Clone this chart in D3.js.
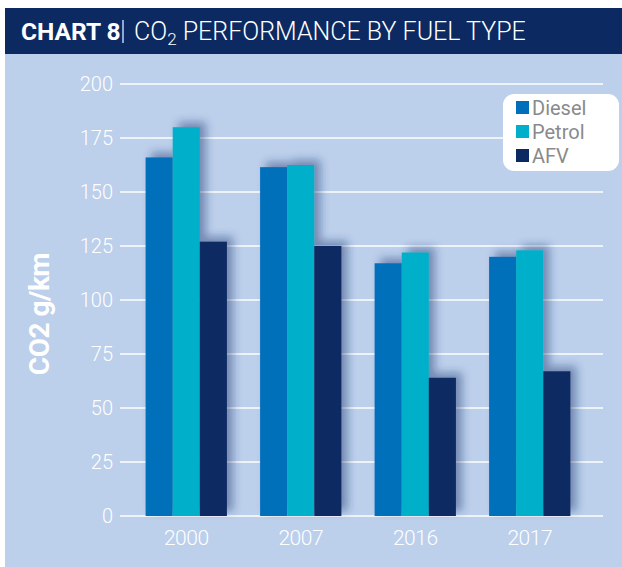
<!DOCTYPE html>
<html>
<head>
<meta charset="utf-8">
<script src="https://cdn.jsdelivr.net/npm/d3@7"></script>
<style>
  body { margin: 0; background: #ffffff; }
  svg { display: block; font-family: Roboto, "Open Sans", sans-serif; }
</style>
</head>
<body>
<div id="chart"></div>
<script>
// chart values
const years = ["2000", "2007", "2016", "2017"];
const fuels = ["Diesel", "Petrol", "AFV"];
const diesel = [166, 161.5, 117, 120];
const petrol = [180, 162.5, 122, 123];
const afv = [127, 125, 64, 67];
const yTicks = [0, 25, 50, 75, 100, 125, 150, 175, 200];
const fuelColors = ["#006fba", "#00b0ca", "#0b2a62"];

const width = 622, height = 567;

const svg = d3.select("#chart").append("svg")
    .attr("width", width)
    .attr("height", height);

// shadow behind each group of bars
const defs = svg.append("defs");
defs.append("filter")
    .attr("id", "barShadow")
    .attr("x", "-30%").attr("y", "-30%")
    .attr("width", "160%").attr("height", "160%")
    .append("feDropShadow")
    .attr("dx", 6).attr("dy", -5)
    .attr("stdDeviation", 4)
    .attr("flood-color", "#1d3470")
    .attr("flood-opacity", 0.45);

// panel + title bar
svg.append("rect")
    .attr("x", 5).attr("y", 8)
    .attr("width", width - 5).attr("height", height - 8)
    .attr("fill", "#bccfeb");

svg.append("rect")
    .attr("x", 5).attr("y", 8)
    .attr("width", width - 5).attr("height", 46)
    .attr("fill", "#0c2a61");

svg.append("text")
    .attr("x", 21).attr("y", 40)
    .attr("fill", "#ffffff")
    .attr("font-size", 24.5)
    .attr("font-weight", 700)
    .text("CHART 8");

svg.append("rect")
    .attr("x", 122).attr("y", 20)
    .attr("width", 2).attr("height", 23)
    .attr("fill", "#8aa9da");

let title = svg.append("text")
    .attr("x", 134).attr("y", 40)
    .attr("fill", "#ffffff")
    .attr("font-size", 25)
    .attr("font-weight", 300);
title.append("tspan").text("CO");
title.append("tspan").attr("font-size", 17).attr("dy", 5).text("2");
title.append("tspan").attr("dy", -5).text(" PERFORMANCE BY FUEL TYPE");

// scales
const y = d3.scaleLinear().domain([0, 200]).range([516, 84]);

const x = d3.scaleBand()
    .domain(years)
    .range([129, 587])
    .paddingInner(0.29)
    .paddingOuter(0.145);

const xInner = d3.scaleBand()
    .domain(fuels)
    .range([0, x.bandwidth()]);

const gridLeft = 120, gridRight = 603;

// gridlines
svg.append("g")
    .selectAll("line")
    .data(yTicks)
    .join("line")
    .attr("x1", gridLeft).attr("x2", gridRight)
    .attr("y1", d => y(d)).attr("y2", d => y(d))
    .attr("stroke", "#ffffff")
    .attr("stroke-width", 1.3);

// y axis labels
const yAxis = svg.append("g")
    .attr("transform", "translate(" + gridLeft + ",0)")
    .call(d3.axisLeft(y).tickValues(yTicks).tickSize(0).tickPadding(7));
yAxis.select(".domain").remove();
yAxis.selectAll("text")
    .attr("fill", "#ffffff")
    .attr("font-size", 20)
    .attr("font-weight", 300)
    .attr("font-family", "Roboto, sans-serif");

svg.append("text")
    .attr("transform", "translate(49,314) rotate(-90)")
    .attr("text-anchor", "middle")
    .attr("fill", "#ffffff")
    .attr("font-size", 28)
    .attr("font-weight", 700)
    .attr("letter-spacing", -0.5)
    .text("CO2 g/km");

// bars
const series = [diesel, petrol, afv];
const groups = svg.append("g")
    .selectAll("g")
    .data(years)
    .join("g")
    .attr("transform", d => "translate(" + x(d) + ",0)")
    .attr("filter", "url(#barShadow)");

groups.selectAll("rect")
    .data((yr, i) => fuels.map((f, k) => ({fuel: f, value: series[k][i], color: fuelColors[k]})))
    .join("rect")
    .attr("x", d => xInner(d.fuel))
    .attr("width", xInner.bandwidth())
    .attr("y", d => y(d.value))
    .attr("height", d => y(0) - y(d.value))
    .attr("fill", d => d.color);

// year labels
const xAxis = svg.append("g")
    .attr("transform", "translate(0," + y(0) + ")")
    .call(d3.axisBottom(x).tickSize(0).tickPadding(14));
xAxis.select(".domain").remove();
xAxis.selectAll("text")
    .attr("fill", "#ffffff")
    .attr("font-size", 21)
    .attr("font-weight", 300)
    .attr("letter-spacing", -0.5)
    .attr("font-family", "Roboto, sans-serif");

// legend
const legend = svg.append("g").attr("transform", "translate(503,94)");
legend.append("rect")
    .attr("width", 116).attr("height", 77)
    .attr("rx", 11)
    .attr("fill", "#ffffff");

const item = legend.selectAll("g.item")
    .data(fuels)
    .join("g")
    .attr("class", "item")
    .attr("transform", (d, i) => "translate(13," + (21 + i * 24) + ")");

item.append("rect")
    .attr("y", -14)
    .attr("width", 13).attr("height", 13)
    .attr("fill", (d, i) => fuelColors[i]);

item.append("text")
    .attr("x", 16)
    .attr("fill", "#8a8a8a")
    .attr("font-size", 20)
    .text(d => d);
</script>
</body>
</html>
